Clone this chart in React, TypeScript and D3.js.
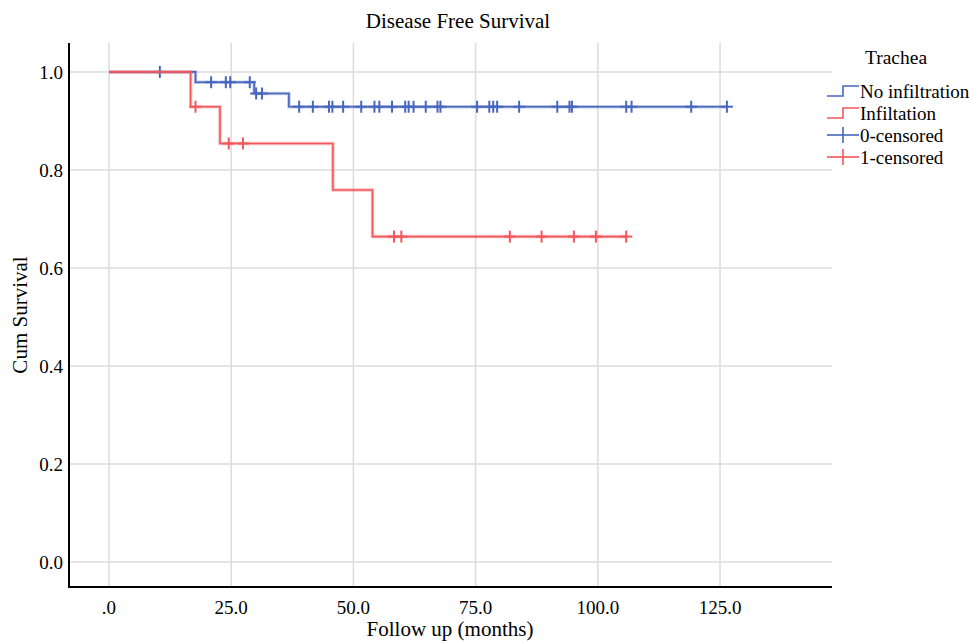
import React from "react";
import * as d3 from "d3";

// Kaplan-Meier steps (time in months, cumulative survival)
const noInfTimes = [0, 17.7, 29.7, 36.8];
const noInfSurv = [1.0, 0.979, 0.956, 0.929];
const noInfEnd = 126.4;
const noInfCensored = [
  10.4, 20.9, 23.9, 24.8, 28.8, 30.1, 31.3, 38.9, 41.7, 45.0, 45.7, 47.9, 51.6,
  54.3, 55.3, 57.9, 60.6, 61.3, 62.3, 64.8, 67.2, 67.8, 75.3, 77.8, 78.6, 79.4,
  83.9, 91.7, 94.2, 94.7, 105.8, 106.9, 119.1, 126.4,
];

const infTimes = [0, 16.7, 22.7, 45.8, 53.9];
const infSurv = [1.0, 0.929, 0.854, 0.759, 0.664];
const infEnd = 105.8;
const infCensored = [17.7, 24.5, 27.4, 58.3, 59.8, 82.0, 88.5, 95.1, 99.6, 105.8];

const xTicks = [0, 25, 50, 75, 100, 125];
const yTicks = [0, 0.2, 0.4, 0.6, 0.8, 1.0];

const legendTitle = "Trachea";
const legendLabels = ["No infiltration", "Infiltation", "0-censored", "1-censored"];

const BLUE = "#4767bd";
const RED = "#f2575b";
const FONT = '"Liberation Serif", "Times New Roman", Times, serif';

const width = 971;
const height = 641;
const plot = { left: 69, right: 832, top: 43, bottom: 587 };

const xScale = d3.scaleLinear().domain([-8.18, 147.9]).range([plot.left, plot.right]);
const yScale = d3.scaleLinear().domain([-0.051, 1.059]).range([plot.bottom, plot.top]);

type Pt = { t: number; s: number };

const buildSeries = (times: number[], surv: number[], end: number): Pt[] => {
  const pts = times.map((t, i) => ({ t, s: surv[i] }));
  pts.push({ t: end, s: surv[surv.length - 1] });
  return pts;
};

const survAt = (times: number[], surv: number[], t: number) => {
  let s = surv[0];
  times.forEach((tt, i) => {
    if (tt <= t) s = surv[i];
  });
  return s;
};

const line = d3
  .line<Pt>()
  .x((d) => xScale(d.t))
  .y((d) => yScale(d.s))
  .curve(d3.curveStepAfter);

const fmtX = (v: number) => (v === 0 ? ".0" : v.toFixed(1));

const Censor = ({ x, y, color }: { x: number; y: number; color: string }) => (
  <g stroke={color} strokeWidth={2}>
    <line x1={x} x2={x} y1={y - 6} y2={y + 6} />
    <line x1={x - 6} x2={x + 6} y1={y} y2={y} />
  </g>
);

const App = () => {
  const series = [
    {
      key: "noinf",
      color: BLUE,
      pts: buildSeries(noInfTimes, noInfSurv, noInfEnd),
      cens: noInfCensored.map((t) => ({ t, s: survAt(noInfTimes, noInfSurv, t) })),
    },
    {
      key: "inf",
      color: RED,
      pts: buildSeries(infTimes, infSurv, infEnd),
      cens: infCensored.map((t) => ({ t, s: survAt(infTimes, infSurv, t) })),
    },
  ];

  return (
    <svg
      width={width}
      height={height}
      style={{ position: "absolute", left: 0, top: 0, background: "#fff", fontFamily: FONT }}
    >
      <rect width={width} height={height} fill="#fff" />

      {/* Title */}
      <text x={458} y={28} textAnchor="middle" fontSize={21} fill="#000">
        Disease Free Survival
      </text>

      {/* Grid */}
      {xTicks.map((t) => (
        <line
          key={`gx-${t}`}
          x1={xScale(t)}
          x2={xScale(t)}
          y1={plot.top}
          y2={plot.bottom}
          stroke="#dcdcdc"
          strokeWidth={1.5}
        />
      ))}
      {yTicks.map((t) => (
        <line
          key={`gy-${t}`}
          x1={plot.left}
          x2={plot.right}
          y1={yScale(t)}
          y2={yScale(t)}
          stroke="#dcdcdc"
          strokeWidth={1.5}
        />
      ))}

      {/* Axes */}
      <line x1={plot.left} x2={plot.left} y1={plot.top} y2={plot.bottom + 1} stroke="#000" strokeWidth={2} />
      <line x1={plot.left - 1} x2={plot.right} y1={plot.bottom} y2={plot.bottom} stroke="#000" strokeWidth={2} />

      {/* Tick labels */}
      {yTicks.map((t) => (
        <text
          key={`ty-${t}`}
          x={plot.left - 6}
          y={yScale(t)}
          dy="0.35em"
          textAnchor="end"
          fontSize={19}
          fill="#000"
        >
          {t.toFixed(1)}
        </text>
      ))}
      {xTicks.map((t) => (
        <text
          key={`tx-${t}`}
          x={xScale(t)}
          y={607}
          dy="0.35em"
          textAnchor="middle"
          fontSize={19}
          fill="#000"
        >
          {fmtX(t)}
        </text>
      ))}

      {/* Axis titles */}
      <text x={450} y={636} textAnchor="middle" fontSize={21} fill="#000">
        Follow up (months)
      </text>
      <text
        transform={`translate(27, ${(plot.top + plot.bottom) / 2}) rotate(-90)`}
        textAnchor="middle"
        fontSize={21}
        fill="#000"
      >
        Cum Survival
      </text>

      {/* Survival curves */}
      {series.map((s) => (
        <g key={s.key}>
          <path d={line(s.pts) || ""} fill="none" stroke={s.color} strokeOpacity={0.35} strokeWidth={3.5} />
          <path d={line(s.pts) || ""} fill="none" stroke={s.color} strokeWidth={1.6} />
          {s.cens.map((c, i) => (
            <Censor key={`${s.key}-c-${i}`} x={xScale(c.t)} y={yScale(c.s)} color={s.color} />
          ))}
        </g>
      ))}

      {/* Legend */}
      <text x={896} y={64} textAnchor="middle" fontSize={19.5} fill="#000">
        {legendTitle}
      </text>
      {legendLabels.map((label, i) => {
        const y = 91 + i * 22;
        const color = i % 2 === 0 ? BLUE : RED;
        return (
          <g key={label}>
            {i < 2 ? (
              <path
                d={`M827,${y + 5}H843V${y - 5}H859`}
                fill="none"
                stroke={color}
                strokeWidth={1.6}
              />
            ) : (
              <g stroke={color} strokeWidth={1.6}>
                <line x1={827} x2={859} y1={y} y2={y} />
                <line x1={843} x2={843} y1={y - 8} y2={y + 8} />
              </g>
            )}
            <text x={860} y={y} dy="0.35em" fontSize={19} fill="#000">
              {label}
            </text>
          </g>
        );
      })}
    </svg>
  );
};

export default App;
